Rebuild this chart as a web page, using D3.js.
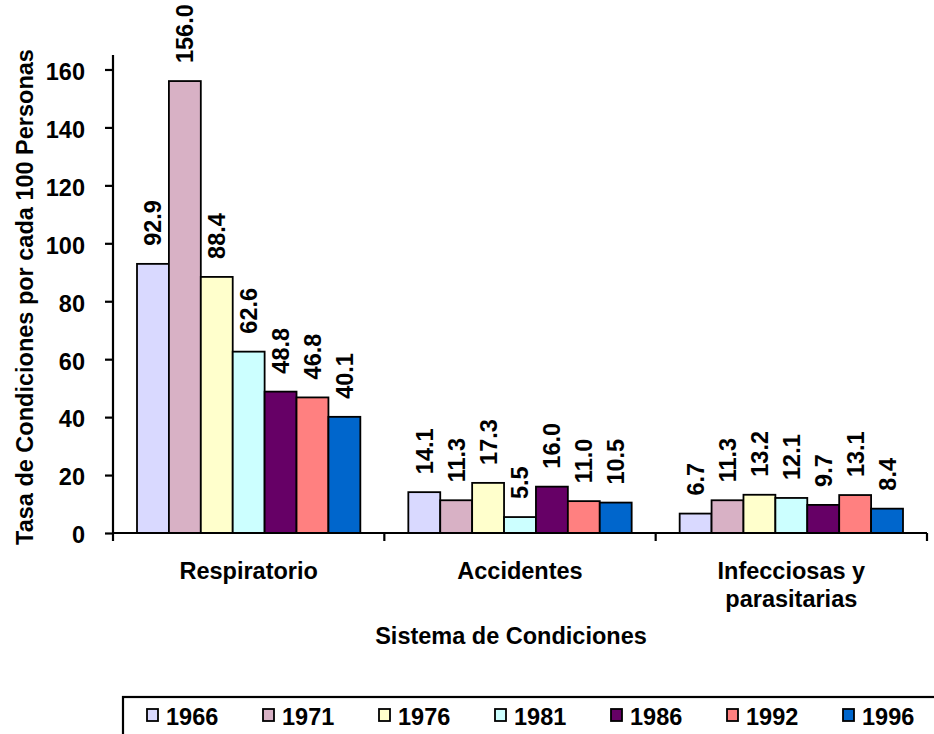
<!DOCTYPE html>
<html>
<head>
<meta charset="utf-8">
<script src="https://cdn.jsdelivr.net/npm/d3@7"></script>
<style>
  body { margin: 0; background: #fff; }
  svg { display: block; font-family: "Liberation Sans", Arial, sans-serif; font-weight: bold; }
</style>
</head>
<body>
<div id="chart"></div>
<script>
// data
var categories = ['Respiratorio', 'Accidentes', 'Infecciosas y parasitarias'];
var years = ['1966', '1971', '1976', '1981', '1986', '1992', '1996'];
var values = {
    '1966': [92.9, 14.1, 6.7],
    '1971': [156.0, 11.3, 11.3],
    '1976': [88.4, 17.3, 13.2],
    '1981': [62.6, 5.5, 12.1],
    '1986': [48.8, 16.0, 9.7],
    '1992': [46.8, 11.0, 13.1],
    '1996': [40.1, 10.5, 8.4]
};
var yTickValues = [0, 20, 40, 60, 80, 100, 120, 140, 160];
var colors = ['#D9D9FF', '#D8B1C5', '#FFFFCC', '#CCFFFF', '#660066', '#FF8080', '#0066CC'];

var width = 934, height = 734;
var plot = { left: 113, right: 927, top: 55, bottom: 533 };
var fontSize = 23.5;

var svg = d3.select('#chart')
    .append('svg')
    .attr('width', width)
    .attr('height', height);

svg.append('rect').attr('width', width).attr('height', height).attr('fill', '#fff');

var x0 = d3.scaleBand()
    .domain(categories)
    .range([plot.left, plot.right])
    .padding(0);

var groupPad = 24;
var x1 = d3.scaleBand()
    .domain(years)
    .range([groupPad, x0.bandwidth() - groupPad])
    .padding(0);

var y = d3.scaleLinear()
    .domain([0, 165])
    .range([plot.bottom, plot.top]);

var color = d3.scaleOrdinal().domain(years).range(colors);

// bars
var groups = svg.append('g')
    .selectAll('g')
    .data(categories)
    .enter().append('g')
    .attr('transform', function (d) { return 'translate(' + x0(d) + ',0)'; });

groups.selectAll('rect')
    .data(function (d, i) { return years.map(function (yr) { return { year: yr, value: values[yr][i] }; }); })
    .enter().append('rect')
    .attr('x', function (d) { return x1(d.year); })
    .attr('y', function (d) { return y(d.value); })
    .attr('width', x1.bandwidth())
    .attr('height', function (d) { return y(0) - y(d.value); })
    .attr('fill', function (d) { return color(d.year); })
    .attr('stroke', '#000')
    .attr('stroke-width', 1.8);

// value labels, rotated
groups.selectAll('text.val')
    .data(function (d, i) { return years.map(function (yr) { return { year: yr, value: values[yr][i] }; }); })
    .enter().append('text')
    .attr('class', 'val')
    .attr('transform', function (d) {
        var cx = x1(d.year) + x1.bandwidth() / 2;
        return 'translate(' + cx + ',' + (y(d.value) - 18) + ') rotate(-90)';
    })
    .attr('dy', '0.36em')
    .attr('font-size', fontSize + 'px')
    .attr('fill', '#000')
    .text(function (d) { return d.value.toFixed(1); });

// y axis
var yAxis = d3.axisLeft(y)
    .tickValues(yTickValues)
    .tickSize(8)
    .tickPadding(20)
    .tickFormat(d3.format('d'));

var yG = svg.append('g')
    .attr('transform', 'translate(' + plot.left + ',0)')
    .call(yAxis);
yG.select('.domain').attr('stroke', '#000').attr('stroke-width', 2.2)
    .attr('d', 'M0,' + plot.top + 'V' + plot.bottom);
yG.selectAll('.tick line').attr('stroke', '#000').attr('stroke-width', 2.2);
yG.selectAll('.tick text')
    .attr('font-size', fontSize + 'px')
    .attr('font-family', '"Liberation Sans", Arial, sans-serif')
    .attr('font-weight', 'bold')
    .attr('fill', '#000')
    .attr('dy', '0.42em');

// x axis line and group boundary ticks
var xG = svg.append('g');
xG.append('line')
    .attr('x1', plot.left).attr('x2', plot.right)
    .attr('y1', y(0)).attr('y2', y(0))
    .attr('stroke', '#000').attr('stroke-width', 2.2);
var bounds = categories.map(function (c) { return x0(c); }).concat([x0(categories[categories.length - 1]) + x0.bandwidth()]);
xG.selectAll('line.tk')
    .data(bounds)
    .enter().append('line')
    .attr('class', 'tk')
    .attr('x1', function (d) { return d; }).attr('x2', function (d) { return d; })
    .attr('y1', y(0)).attr('y2', y(0) + 8)
    .attr('stroke', '#000').attr('stroke-width', 2.2);

// category labels (wrapped as in the original)
var catLines = {
    'Respiratorio': ['Respiratorio'],
    'Accidentes': ['Accidentes'],
    'Infecciosas y parasitarias': ['Infecciosas y', 'parasitarias']
};
xG.selectAll('text.cat')
    .data(categories)
    .enter().append('text')
    .attr('class', 'cat')
    .attr('x', function (d) { return x0(d) + x0.bandwidth() / 2; })
    .attr('y', 579)
    .attr('text-anchor', 'middle')
    .attr('font-size', fontSize + 'px')
    .attr('fill', '#000')
    .each(function (d) {
        var t = d3.select(this);
        catLines[d].forEach(function (line, i) {
            t.append('tspan')
                .attr('x', x0(d) + x0.bandwidth() / 2)
                .attr('dy', i === 0 ? 0 : 28)
                .text(line);
        });
    });

// axis titles
svg.append('text')
    .attr('x', 511)
    .attr('y', 644)
    .attr('text-anchor', 'middle')
    .attr('font-size', fontSize + 'px')
    .attr('fill', '#000')
    .text('Sistema de Condiciones');

svg.append('text')
    .attr('transform', 'translate(33,297) rotate(-90)')
    .attr('text-anchor', 'middle')
    .attr('font-size', fontSize + 'px')
    .attr('fill', '#000')
    .text('Tasa de Condiciones por cada 100 Personas');

// legend
var legend = svg.append('g');
legend.append('rect')
    .attr('x', 123).attr('y', 697)
    .attr('width', 840).attr('height', 60)
    .attr('fill', 'none')
    .attr('stroke', '#000').attr('stroke-width', 2.2);

var items = legend.selectAll('g.item')
    .data(years)
    .enter().append('g')
    .attr('class', 'item')
    .attr('transform', function (d, i) { return 'translate(' + (147 + i * 116) + ',709)'; });
items.append('rect')
    .attr('width', 11).attr('height', 12)
    .attr('fill', function (d) { return color(d); })
    .attr('stroke', '#000').attr('stroke-width', 1.8);
items.append('text')
    .attr('x', 19).attr('y', 16)
    .attr('font-size', fontSize + 'px')
    .attr('fill', '#000')
    .text(function (d) { return d; });
</script>
</body>
</html>
